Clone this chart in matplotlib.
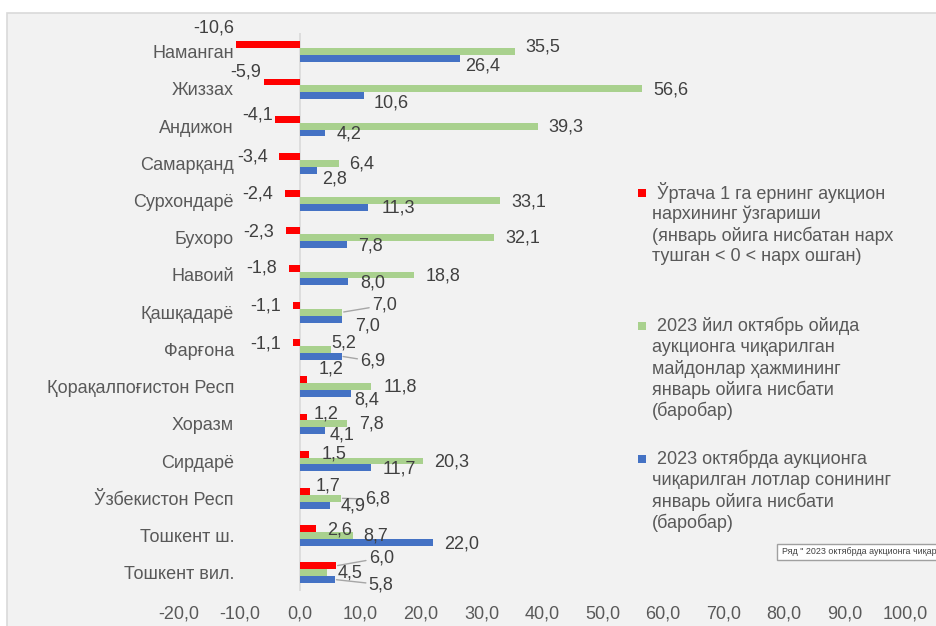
import matplotlib
matplotlib.use('Agg')
import matplotlib.pyplot as plt
from matplotlib.patches import Rectangle
import numpy as np

plt.rcParams['font.family'] = ['Liberation Sans', 'DejaVu Sans']

# ---------------- data ----------------
regions = ['Наманган', 'Жиззах', 'Андижон', 'Самарқанд', 'Сурхондарё', 'Бухоро',
           'Навоий', 'Қашқадарё', 'Фарғона', 'Қорақалпоғистон Респ', 'Хоразм',
           'Сирдарё', 'Ўзбекистон Респ', 'Тошкент ш.', 'Тошкент вил.']
price_change = [-10.6, -5.9, -4.1, -3.4, -2.4, -2.3, -1.8, -1.1, -1.1, 1.2, 1.2, 1.5, 1.7, 2.6, 6.0]
area_ratio = [35.5, 56.6, 39.3, 6.4, 33.1, 32.1, 18.8, 7.0, 5.2, 11.8, 7.8, 20.3, 6.8, 8.7, 4.5]
lots_ratio = [26.4, 10.6, 4.2, 2.8, 11.3, 7.8, 8.0, 7.0, 6.9, 8.4, 4.1, 11.7, 4.9, 22.0, 5.8]
xticks = list(range(-20, 101, 10))

legend_red = [' Ўртача 1 га ернинг аукцион', 'нархининг ўзгариши',
              '(январь ойига нисбатан нарх', 'тушган < 0 < нарх ошган)']
legend_green = [' 2023 йил октябрь ойида', 'аукционга чиқарилган',
                'майдонлар ҳажмининг', 'январь ойига нисбати', '(баробар)']
legend_blue = [' 2023 октябрда аукционга', 'чиқарилган лотлар сонининг',
               'январь ойига нисбати', '(баробар)']
tooltip = 'Ряд " 2023 октябрда аукционга чиқар'

# label offsets (pixels, dx right, dy down) from bar ends
off_red = [(-22, -17), (-19, -10), (-18, -4), (-27, 1), (-28, 0), (-27, 1), (-27, 0),
           (-28, 1), (-28, 1), (24, -11), (19, -3), (25, 0), (18, -5), (24, 1), (45, -8)]
off_green = [(28, -5), (28, 1), (28, 1), (23, 1), (29, 1), (29, 0), (29, 1),
             (42, -7), (12, -6), (29, 0), (24, 0), (29, 1), (36, 1), (23, 1), (23, 0)]
off_blue = [(23, 7), (27, 7), (24, 1), (18, 9), (30, 1), (23, 1), (24, 1),
            (25, 7), (31, 5), (16, 6), (17, 4), (29, 1), (23, 1), (29, 2), (46, 5)]
lead_red = {14}
lead_green = {7, 12}
lead_blue = {8, 14}

RED, GREEN, BLUE = '#FF0000', '#A9D18E', '#4472C4'
TXT, TXT2 = '#404040', '#595959'
FS = 13

W, H = 936, 626
fig = plt.figure(figsize=(W / 100, H / 100), dpi=100)
fig.patch.set_facecolor('white')
fig.add_artist(Rectangle((7.5 / W, -0.01), 1.1, 1 - 12.5 / H + 0.01, transform=fig.transFigure,
                         facecolor='#F2F2F2', edgecolor='#D9D9D9', lw=1.2, zorder=0))

ax = fig.add_axes([179 / W, 1 - 591.3 / H, (905 - 179) / W, (591.3 - 33.1) / H])
ax.set_facecolor('none')
y = np.arange(len(regions))
h = 0.185
ax.barh(y - h, price_change, h, color=RED, zorder=2)
ax.barh(y, area_ratio, h, color=GREEN, zorder=2)
ax.barh(y + h, lots_ratio, h, color=BLUE, zorder=2)
ax.axvline(0, color='#D9D9D9', lw=1.2, zorder=1)

ax.set_xlim(-20, 100)
ax.set_ylim(len(regions) - 0.5, -0.5)
for s in ax.spines.values():
    s.set_visible(False)

ax.set_xticks(xticks, [f'{t:.1f}'.replace('.', ',') for t in xticks])
ax.tick_params(axis='x', length=0, pad=10, labelsize=FS, labelcolor=TXT2)
ax.set_yticks(y, regions)
ax.tick_params(axis='y', length=0, pad=-39.6, labelsize=FS, labelcolor=TXT2)


def fmt(v):
    return f'{v:.1f}'.replace('.', ',')


def label(vals, ys, offs, leads):
    for i, (v, yy, (dx, dy)) in enumerate(zip(vals, ys, offs)):
        ap = None
        if i in leads:
            ap = dict(arrowstyle='-', color='#A6A6A6', lw=1, shrinkA=0, shrinkB=1)
        ax.annotate(fmt(v), xy=(v, yy), xytext=(dx, -dy), textcoords='offset pixels',
                    ha='center', va='center', fontsize=FS, color=TXT, arrowprops=ap,
                    zorder=3)


label(price_change, y - h, off_red, lead_red)
label(area_ratio, y, off_green, lead_green)
label(lots_ratio, y + h, off_blue, lead_blue)

# legend (drawn manually, multi-line entries)
def legend_entry(lines, color, y0):
    fig.add_artist(Rectangle((638 / W, 1 - (y0 + 4) / H), 8 / W, 8 / H,
                             transform=fig.transFigure, facecolor=color, edgecolor='none'))
    for k, line in enumerate(lines):
        fig.text(652 / W, 1 - (y0 + k * 21.3) / H, line, ha='left', va='center',
                 fontsize=FS, color=TXT2)


legend_entry(legend_red, RED, 193)
legend_entry(legend_green, GREEN, 326)
legend_entry(legend_blue, BLUE, 459)

# tooltip box
fig.add_artist(Rectangle((777 / W, 1 - 560 / H), 0.3, 16 / H, transform=fig.transFigure,
                         facecolor='white', edgecolor='#A0A0A0', lw=1))
fig.text(782 / W, 1 - 552 / H, tooltip, ha='left', va='center', fontsize=6.4, color=TXT)

fig.savefig('out.png', dpi=100)
